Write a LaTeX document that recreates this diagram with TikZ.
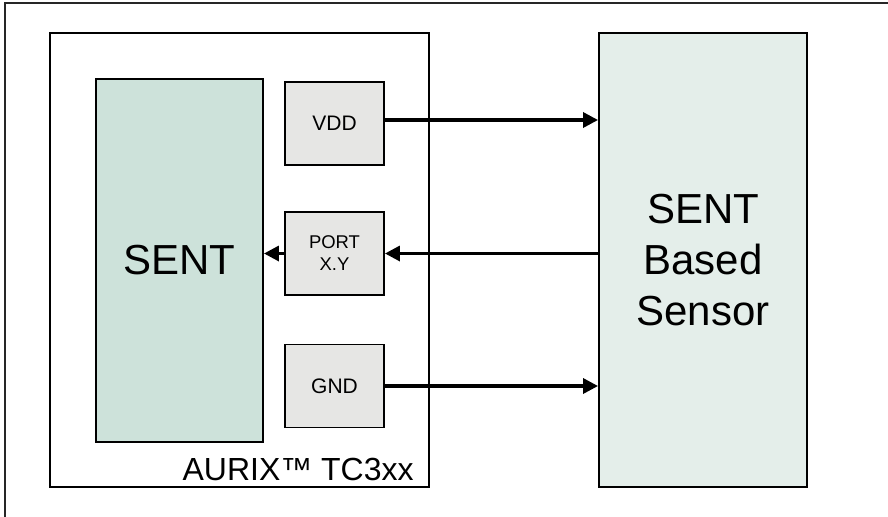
\documentclass[tikz,border=0pt]{standalone}
\usepackage{fontspec}
\setmainfont{Liberation Sans}
\usepackage{tikz}
\usetikzlibrary{calc,arrows.meta}

\definecolor{sentfill}{RGB}{205,226,218}
\definecolor{pinfill}{RGB}{230,230,228}
\definecolor{sensorfill}{RGB}{228,238,234}

\tikzset{
	blockbox/.style={draw=black, line width=1.1pt, inner sep=0pt},
	pinbox/.style={blockbox, fill=pinfill, minimum width=1.98cm, minimum height=1.66cm,
		font=\fontsize{11.95}{14}\selectfont},
	signal/.style={line width=1.9pt, -{Triangle[length=0.3cm, width=0.3cm]}}
}

\begin{document}
\begin{tikzpicture}
	\useasboundingbox (0,0) rectangle (17.76,10.32);
	\clip (0,0) rectangle (17.76,10.32);
	
	%frame
	\draw[line width=0.9pt, black!85] (18.2,10.26) -| (0.10,-0.5);
	
	%boxes
	\node[blockbox, minimum width=7.58cm, minimum height=9.08cm] (aurix) at (4.79,5.12) {};
	\node[blockbox, fill=sentfill, minimum width=3.34cm, minimum height=7.26cm,
		font=\fontsize{23.9}{28.7}\selectfont] (sent) at (3.59,5.11) {SENT};
	\node[blockbox, fill=sensorfill, minimum width=4.16cm, minimum height=9.08cm,
		font=\fontsize{23.9}{29}\selectfont, align=center] (sensor) at (14.06,5.12) {SENT\\Based\\Sensor};
	
	%pins
	\node[pinbox] (vdd)  at (6.69,7.85) {VDD};
	\node[pinbox, align=center, font=\fontsize{10.5}{12.5}\selectfont] (port) at (6.69,5.25) {PORT\\X.Y};
	\node[pinbox] (gnd)  at (6.69,2.60) {GND};
	
	%label
	\node[anchor=base east, inner sep=0pt, font=\fontsize{18.2}{22}\selectfont] (chip)
		at ($(aurix.south east)+(-0.32,0.14)$) {AURIX™ TC3xx};
	
	%lines
	\coordinate (vddout) at ($(vdd.east)+(0,0.07)$);
	\draw[signal] (vddout) -- (vddout -| sensor.west);		%vdd--sensor
	\draw[signal] (port.east -| sensor.west) -- (port.east);	%sensor--port
	\draw[signal] (port.west) -- (port.west -| sent.east);		%port--sent
	\draw[signal] (gnd.east) -- (gnd.east -| sensor.west);		%gnd--sensor
	
\end{tikzpicture}
\end{document}
